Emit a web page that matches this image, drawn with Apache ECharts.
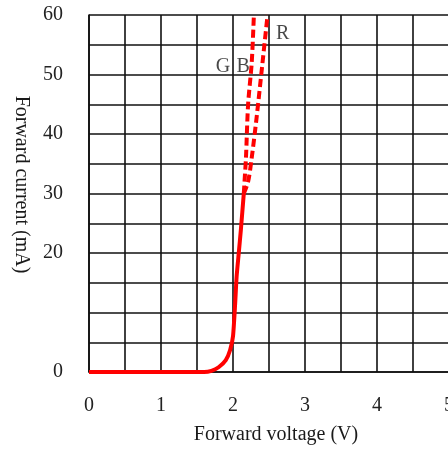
<!DOCTYPE html>
<html>
<head>
<meta charset="utf-8">
<script src="https://cdn.jsdelivr.net/npm/echarts@6/dist/echarts.min.js"></script>
<style>
  html, body { margin: 0; padding: 0; background: #fff; }
  #chart { width: 448px; height: 450px; }
</style>
</head>
<body>
<div id="chart"></div>
<script>
// shared part of the curve (V, mA)
const commonV = [0, 1.6, 1.7, 1.8, 1.9, 1.96, 2.0, 2.03, 2.05, 2.08, 2.11, 2.15];
const commonI = [0, 0, 0.2, 0.8, 2.0, 3.7, 6.0, 11.5, 16.0, 20.0, 24.0, 30.0];
// G / B branch
const gbV = [2.15, 2.16, 2.18, 2.21, 2.26, 2.29];
const gbI = [30.0, 32.0, 36.0, 45.0, 52.0, 60.0];
// R branch
const rV = [2.15, 2.21, 2.26, 2.33, 2.41, 2.48];
const rI = [30.0, 32.0, 36.0, 43.0, 52.0, 60.0];
// curve labels
const tagNames = ['G', 'B', 'R'];
const tagV = [1.86, 2.14, 2.69];
const tagI = [51.3, 51.3, 56.8];

const xTicks = [0, 1, 2, 3, 4, 5];
const yTicks = [0, 20, 30, 40, 50, 60];

const pairs = (xs, ys) => xs.map((x, i) => [x, ys[i]]);
const font = 'Liberation Serif';
const gridLine = { show: true, lineStyle: { color: '#111', width: 1.6 } };

const chart = echarts.init(document.getElementById('chart'));
chart.setOption({
    animation: false,
    grid: { left: 89, right: -1, top: 15, bottom: 78, outerBoundsMode: 'none' },
    xAxis: {
        type: 'value',
        min: 0,
        max: 5,
        interval: 0.5,
        name: 'Forward voltage (V)',
        nameLocation: 'middle',
        nameGap: 53,
        nameTextStyle: { fontFamily: font, fontSize: 20, color: '#1a1a1a', padding: [0, 0, 0, 14] },
        axisLine: { show: true, lineStyle: { color: '#111', width: 1.6 } },
        axisTick: { show: false },
        axisLabel: {
            margin: 24,
            fontFamily: font, fontSize: 20, color: '#222',
            showMaxLabel: true,
            formatter: v => xTicks.includes(v) ? String(v) : ''
        },
        splitLine: gridLine
    },
    yAxis: {
        type: 'value',
        min: 0,
        max: 60,
        interval: 5,
        name: 'Forward current (mA)',
        nameLocation: 'middle',
        nameRotate: -90,
        nameGap: 58,
        nameTextStyle: { fontFamily: font, fontSize: 20, color: '#1a1a1a', padding: [0, 18, 0, 0] },
        axisLine: { show: true, lineStyle: { color: '#111', width: 1.6 } },
        axisTick: { show: false },
        axisLabel: {
            margin: 26,
            fontFamily: font, fontSize: 20, color: '#222',
            formatter: v => yTicks.includes(v) ? String(v) : ''
        },
        splitLine: gridLine
    },
    series: [
        {
            name: 'common',
            type: 'line',
            data: pairs(commonV, commonI),
            smooth: 0.2,
            showSymbol: false,
            lineStyle: { color: '#ff0000', width: 4 }
        },
        {
            name: 'GB',
            type: 'line',
            data: pairs(gbV, gbI),
            smooth: 0.3,
            showSymbol: false,
            lineStyle: { color: '#ff0000', width: 4, type: [8, 4] }
        },
        {
            name: 'R',
            type: 'line',
            data: pairs(rV, rI),
            smooth: 0.3,
            showSymbol: false,
            lineStyle: { color: '#ff0000', width: 4, type: [8, 4] }
        },
        {
            name: 'tags',
            type: 'scatter',
            symbolSize: 0,
            data: tagNames.map((n, i) => ({ name: n, value: [tagV[i], tagI[i]] })),
            label: {
                show: true,
                position: 'inside',
                formatter: p => p.name,
                fontFamily: font, fontSize: 20, color: '#1a1a1a'
            }
        }
    ]
});
</script>
</body>
</html>
